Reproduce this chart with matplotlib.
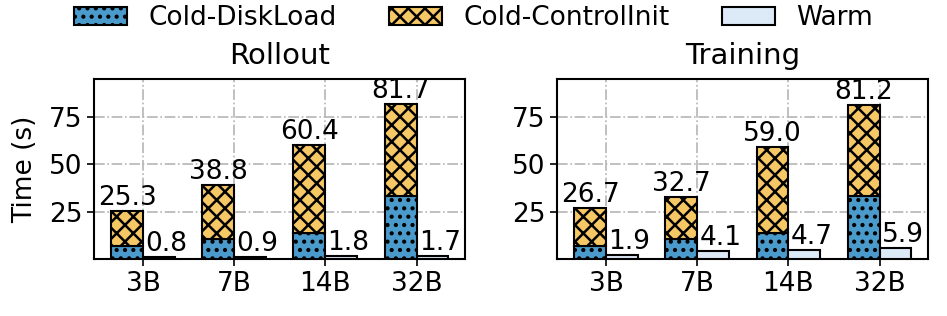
import matplotlib
matplotlib.use('Agg')
import matplotlib.pyplot as plt
import numpy as np
from matplotlib.patches import Patch

models = ['3B', '7B', '14B', '32B']
rollout_total = [25.3, 38.8, 60.4, 81.7]
rollout_disk = [7.0, 10.5, 13.9, 33.2]
rollout_warm = [0.8, 0.9, 1.8, 1.7]
training_total = [26.7, 32.7, 59.0, 81.2]
training_disk = [6.8, 10.5, 13.9, 33.0]
training_warm = [1.9, 4.1, 4.7, 5.9]
panel_titles = ['Rollout', 'Training']
series_names = ['Cold-DiskLoad', 'Cold-ControlInit', 'Warm']

c_disk = '#4a9bcc'
c_ctrl = '#f6c765'
c_warm = '#dce9f6'

FS = 19
plt.rcParams['hatch.linewidth'] = 1.8
plt.rcParams['font.family'] = ['DejaVu Sans']

fig = plt.figure(figsize=(9.47, 3.16), dpi=100)
ax1 = fig.add_axes([0.0996, 0.1804, 0.3917, 0.5696])
ax2 = fig.add_axes([0.5885, 0.1804, 0.3918, 0.5696], sharey=ax1)

w = 0.35
x = np.arange(len(models))

panels = [
    (ax1, rollout_total, rollout_disk, rollout_warm, panel_titles[0]),
    (ax2, training_total, training_disk, training_warm, panel_titles[1]),
]

for ax, total, disk, warm, title in panels:
    total = np.array(total)
    disk = np.array(disk)
    ctrl = total - disk
    ax.bar(x - w / 2, disk, w, color=c_disk, edgecolor='black', linewidth=1.5,
           hatch='..', zorder=3)
    ax.bar(x - w / 2, ctrl, w, bottom=disk, color=c_ctrl, edgecolor='black',
           linewidth=1.5, hatch='xx', zorder=3)
    ax.bar(x + w / 2, warm, w, color=c_warm, edgecolor='black', linewidth=1.5,
           zorder=3)
    for xi, t in zip(x, total):
        ax.text(xi - w / 2, t, f'{t:.1f}', ha='center', va='bottom', fontsize=FS,
                zorder=4)
    for xi, v in zip(x, warm):
        ax.text(xi + w / 2 + 0.08, v, f'{v:.1f}', ha='center', va='bottom',
                fontsize=FS, zorder=4)
    ax.set_xticks(x)
    ax.set_xticklabels(models)
    ax.set_yticks([25, 50, 75])
    ax.set_ylim(0, 95)
    ax.tick_params(labelsize=FS, length=5, width=1.2)
    ax.tick_params(axis='y', labelleft=True)
    ax.grid(True, linestyle='-.', color='#b5b5b5', linewidth=1.2, zorder=0)
    ax.set_axisbelow(True)
    for s in ax.spines.values():
        s.set_linewidth(1.5)
    ax.set_title(title, fontsize=21, pad=11)

ax1.set_ylabel('Time (s)', fontsize=FS, labelpad=8)

handles = [
    Patch(facecolor=c_disk, edgecolor='black', linewidth=1.5, hatch='..'),
    Patch(facecolor=c_ctrl, edgecolor='black', linewidth=1.5, hatch='xx'),
    Patch(facecolor=c_warm, edgecolor='black', linewidth=1.5),
]
fig.legend(handles, series_names, loc='center', bbox_to_anchor=(0.5, 0.943),
           ncol=3, frameon=False, fontsize=FS)

fig.savefig('out.png', dpi=100)
